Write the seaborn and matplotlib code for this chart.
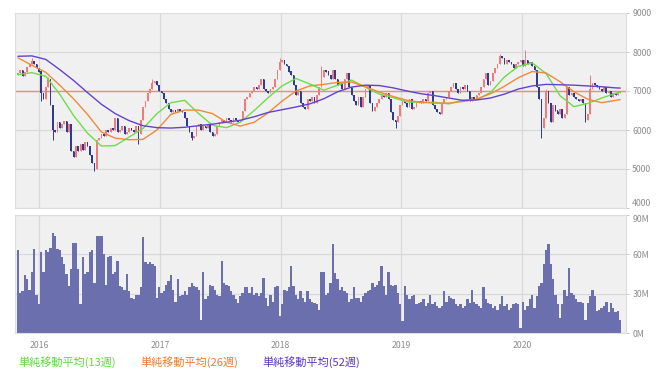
import numpy as np
import pandas as pd
import matplotlib
matplotlib.use("Agg")
import matplotlib.pyplot as plt
import seaborn as sns

# weekly candles, first week = 2015-10-30
start = "2015-10-30"
open_first = 7400
close = [
    7450, 7550, 7380, 7500, 7620, 7700, 7780, 7700, 7600, 7500,
    6950, 6800, 7100, 7300, 6650, 6000, 5950, 6200, 6050, 6150,
    6220, 5950, 6150, 5450, 5300, 5600, 5450, 5650, 5500, 5700,
    5600, 5350, 5150, 5000, 5750, 5800, 5900, 5850, 6000, 5950,
    6050, 6000, 6300, 5950, 6000, 6100, 5900, 5950, 6050, 6000,
    5950, 6100, 5900, 6250, 6600, 6750, 6950, 7050, 7200, 7250,
    7150, 7000, 6950, 6800, 6700, 6550, 6450, 6500, 6450, 6550,
    6500, 6450, 6300, 6100, 5950, 5800, 5850, 6100, 6150, 6000,
    6100, 6050, 6150, 5950, 5850, 5900, 6100, 6200, 6250, 6200,
    6300, 6250, 6200, 6300, 6250, 6200, 6250, 6500, 6800, 6850,
    6950, 7000, 7100, 7050, 7150, 7300, 7050, 7000, 6950, 7050,
    7100, 7300, 7550, 7750, 7800, 7700, 7650, 7500, 7400, 7150,
    6900, 7000, 6700, 6600, 6550, 6800, 6750, 6850, 6700, 6900,
    7100, 7350, 7550, 7500, 7400, 7300, 7550, 7300, 7150, 7200,
    7050, 7300, 7450, 7100, 6900, 6750, 6650, 6850, 6600, 6850,
    7050, 7150, 6700, 6500, 6600, 6700, 6800, 6900, 6850, 6950,
    6800, 6450, 6250, 6200, 6350, 6650, 6750, 6700, 6600, 6800,
    6550, 6600, 6700, 6750, 6700, 6800, 6750, 6950, 7000, 6650,
    6550, 6450, 6400, 6700, 6800, 6850, 7000, 7100, 7200, 7050,
    6950, 7100, 7050, 7150, 7000, 6750, 6850, 6800, 6900, 6950,
    7100, 7300, 7450, 7150, 7250, 7450, 7600, 7700, 7900, 7850,
    7700, 7800, 7750, 7700, 7600, 7700, 7750, 7800, 7650, 7800,
    7700, 7750, 7650, 7550, 7100, 6800, 6050, 6300, 7000, 6700,
    6200, 6650, 6500, 6400, 6550, 6300, 6400, 7100, 6900, 6950,
    6850, 6800, 6750, 6800, 6700, 6250, 6400, 7050, 7200, 7150,
    7100, 7050, 7000, 7100, 6950, 7000, 6850, 6950, 6900, 6950,
    6980,
]
# long wicks that stand out (week index: price)
wick_high = {6: 7850, 13: 7350, 58: 7300, 113: 7850, 131: 7650, 208: 7950,
             219: 8050, 228: 7050, 247: 7400}
wick_low = {10: 6750, 15: 5750, 33: 4950, 52: 5650, 75: 5750, 163: 6050,
            226: 5800, 245: 6200}

# weekly volume, millions of shares
volume_m = [
    63, 31, 32, 44, 41, 33, 47, 64, 29, 22,
    62, 47, 63, 62, 65, 76, 74, 64, 63, 58,
    53, 45, 36, 49, 69, 69, 49, 22, 58, 45,
    47, 62, 63, 38, 74, 74, 74, 60, 37, 58,
    59, 45, 47, 55, 36, 35, 33, 45, 32, 27,
    26, 29, 29, 35, 73, 54, 53, 54, 53, 51,
    27, 35, 31, 32, 37, 40, 44, 33, 24, 41,
    28, 29, 32, 29, 35, 38, 36, 35, 33, 10,
    47, 26, 28, 37, 36, 33, 29, 28, 55, 38,
    37, 36, 32, 29, 26, 23, 28, 31, 35, 35,
    31, 35, 29, 31, 28, 31, 42, 27, 21, 29,
    24, 35, 36, 13, 22, 33, 32, 35, 51, 36,
    29, 26, 32, 27, 24, 32, 26, 24, 23, 22,
    18, 47,
    47, 29, 31, 38, 68, 46, 41, 33, 35, 32,
    31, 24, 26, 35, 27, 27, 24, 28, 31, 32,
    33, 38, 35, 37, 40, 51, 36, 29, 47, 37,
    36, 37, 31, 22, 9, 36, 29, 26, 28, 29,
    22, 23, 24, 26, 21, 23, 29, 22, 24, 21,
    19, 21, 32, 24, 28, 27, 26, 22, 21, 22,
    19, 21, 26, 23, 33, 24, 22, 21, 19, 35,
    26, 23, 22, 19, 21, 18, 22, 28, 21, 22,
    18, 19, 22, 23, 22, 4, 24, 18, 21, 26,
    29, 19, 28, 36, 38, 53, 63, 68, 53, 41,
    29, 22, 12, 22, 33, 28, 50, 31, 29, 26,
    24, 24, 23, 10, 23, 28, 33, 28, 17, 18,
    19, 21, 24, 16, 23, 19, 16, 17, 10,
]

# moving averages every 6 weeks
ma_weeks = list(range(0, 259, 6)) + [260]
ma13 = [7420, 7470, 7380, 6920, 6370, 5920, 5590, 5600, 5820, 6040,
        6420, 6700, 6760, 6420, 6120, 6060, 6200, 6500, 6830, 7130,
        7320, 7180, 7020, 7150, 7280, 7100, 6920, 6830, 6720, 6710,
        6710, 6670, 6760, 6780, 6960, 7360, 7630, 7720, 7450, 6880,
        6600, 6680, 6820, 6940, 6970]
ma26 = [7850, 7660, 7480, 7150, 6800, 6400, 5950, 5790, 5750, 5760,
        6000, 6400, 6510, 6510, 6420, 6200, 6100, 6200, 6440, 6740,
        7000, 7130, 7170, 7220, 7230, 7110, 6970, 6860, 6760, 6710,
        6690, 6690, 6730, 6790, 6930, 7120, 7340, 7500, 7460, 7240,
        6980, 6790, 6700, 6760, 6780]
ma52 = [7890, 7900, 7810, 7550, 7270, 6960, 6660, 6420, 6240, 6110,
        6060, 6050, 6070, 6110, 6150, 6200, 6250, 6340, 6450, 6520,
        6590, 6670, 6800, 6980, 7100, 7150, 7140, 7080, 7000, 6930,
        6880, 6820, 6760, 6770, 6820, 6920, 7050, 7130, 7170, 7160,
        7150, 7130, 7110, 7080, 7075]

ref_price = 7000
price_ticks = [4000, 5000, 6000, 7000, 8000, 9000]
vol_ticks = [0, 30, 60, 90]
years = [2016, 2017, 2018, 2019, 2020]
legend_labels = ["単純移動平均(13週)", "単純移動平均(26週)", "単純移動平均(52週)"]

c_up, c_down = "#f47a7a", "#2e3a94"
c_ma = ["#6edc4c", "#ef8a3a", "#6442cc"]
c_legend = ["#5fd83f", "#f07a2c", "#5a34c4"]
c_vol = "#6b6fae"
c_grid = "#d9d9d9"
c_tick = "#8c8c8c"

sns.set_style("white")
plt.rcParams["font.family"] = ["Noto Sans CJK JP", "DejaVu Sans"]

dates = pd.date_range(start, periods=len(close), freq="7D")
df = pd.DataFrame({"date": dates, "close": close, "volume": volume_m})
df["open"] = df["close"].shift(1).fillna(open_first)
df["high"] = df[["open", "close"]].max(axis=1)
df["low"] = df[["open", "close"]].min(axis=1)
for w, v in wick_high.items():
    df.loc[w, "high"] = v
for w, v in wick_low.items():
    df.loc[w, "low"] = v
up = df["close"] >= df["open"]
colors = np.where(up, c_up, c_down)

ma_df = pd.DataFrame({"date": dates[ma_weeks], "ma13": ma13, "ma26": ma26, "ma52": ma52})

W, H = 663, 380
fig = plt.figure(figsize=(W / 100, H / 100), dpi=100)
ax1 = fig.add_axes([15 / W, (H - 208) / H, 611 / W, 195 / H])
ax2 = fig.add_axes([15 / W, (H - 333.3) / H, 611 / W, 118.3 / H])

xmin = dates[0] - pd.Timedelta(days=9)
xmax = dates[0] + pd.Timedelta(days=262.5 * 7)
year_pos = [pd.Timestamp(f"{y}-01-01") for y in years]

for ax in (ax1, ax2):
    ax.set_facecolor("#f0f0f0")
    ax.set_axisbelow(True)
    ax.grid(color=c_grid, lw=0.9)
    ax.set_xlim(xmin, xmax)
    ax.set_xticks(year_pos)
    ax.yaxis.tick_right()
    ax.tick_params(axis="y", length=2.5, width=0.6, color="#bbbbbb", labelsize=6.3,
                   labelcolor=c_tick, pad=2)
    for s in ax.spines.values():
        s.set_color("#dddddd")
        s.set_linewidth(0.8)

# price panel
ax1.axhline(ref_price, color="#f08a8a", lw=1.0, zorder=1.5)
ax1.vlines(df["date"], df["low"], df["high"], colors=colors, lw=0.7, zorder=2)
body = (df["close"] - df["open"]).abs().clip(lower=15)
ax1.bar(df["date"], body, bottom=df[["open", "close"]].min(axis=1), width=5,
        color=colors, lw=0, zorder=2)
for col, c in zip(["ma13", "ma26", "ma52"], c_ma):
    sns.lineplot(data=ma_df, x="date", y=col, ax=ax1, color=c, lw=1.0, zorder=3)
ax1.set_ylim(4000, 9000)
ax1.set_yticks(price_ticks)
ax1.set_xlabel("")
ax1.set_ylabel("")
ax1.tick_params(axis="x", length=0, labelbottom=False)
ax1.get_yticklabels()[0].set_verticalalignment("bottom")

# volume panel
ax2.bar(df["date"], df["volume"], width=7.2, color=c_vol, lw=0, zorder=2)
ax2.set_ylim(0, 90)
ax2.set_yticks(vol_ticks)
ax2.set_yticklabels([f"{v}M" for v in vol_ticks])
ax2.get_yticklabels()[-1].set_verticalalignment("top")
ax2.set_xticklabels([str(y) for y in years])
ax2.tick_params(axis="x", length=3, width=0.6, color="#bbbbbb", labelsize=6.3,
                labelcolor=c_tick, pad=2.5)

# legend row
for i, (lab, c) in enumerate(zip(legend_labels, c_legend)):
    fig.text((18 + 122 * i) / W, (H - 362) / H, lab, color=c, fontsize=8, va="center")

fig.savefig("out.png", dpi=100)
